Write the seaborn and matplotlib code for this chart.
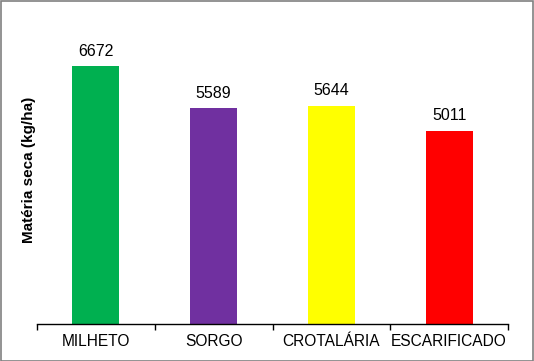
import matplotlib
matplotlib.use("Agg")
import matplotlib.pyplot as plt
import seaborn as sns
import pandas as pd
from matplotlib.patches import Rectangle

categories = ["MILHETO", "SORGO", "CROTALÁRIA", "ESCARIFICADO"]
values = [6672, 5589, 5644, 5011]
colors = ["#00B050", "#7030A0", "#FFFF00", "#FF0000"]
ylabel = "Matéria seca (kg/ha)"

sns.set_theme(style="white")
plt.rcParams["font.family"] = ["Liberation Sans", "DejaVu Sans"]

df = pd.DataFrame({"cat": categories, "val": values})

fig = plt.figure(figsize=(5.34, 3.61), dpi=100)
ax = fig.add_axes([0.0693, 0.1025, 0.882, 0.8555])

sns.barplot(data=df, x="cat", y="val", hue="cat", palette=colors,
            width=0.4, saturation=1, legend=False, ax=ax, edgecolor="none")

ax.set_ylim(0, 8000)
ax.set_xlim(-0.5, len(categories) - 0.5)

for i, v in enumerate(values):
    ax.annotate(str(v), xy=(i, v), xytext=(0, 5.5), textcoords="offset points",
                ha="center", va="bottom", fontsize=11.5, color="black")

ax.set_yticks([])
ax.set_xticks(range(len(categories)))
ax.set_xticklabels(categories, fontsize=11.2, color="black")
ax.tick_params(axis="x", which="major", length=0, pad=7)
ax.set_xticks([i - 0.5 for i in range(len(categories) + 1)], minor=True)
ax.tick_params(axis="x", which="minor", length=4, width=1, color="black", direction="out", bottom=True)
ax.set_xlabel("")
ax.set_ylabel(ylabel, fontsize=11, fontweight="bold", color="black", labelpad=1)

for s in ["top", "right", "left"]:
    ax.spines[s].set_visible(False)
ax.spines["bottom"].set_color("black")
ax.spines["bottom"].set_linewidth(1)

fig.patches.append(Rectangle((0.001, 0.001), 0.997, 0.996, transform=fig.transFigure,
                             fill=False, edgecolor="#808080", linewidth=1.2))

fig.savefig("out.png", dpi=100, facecolor="white")
